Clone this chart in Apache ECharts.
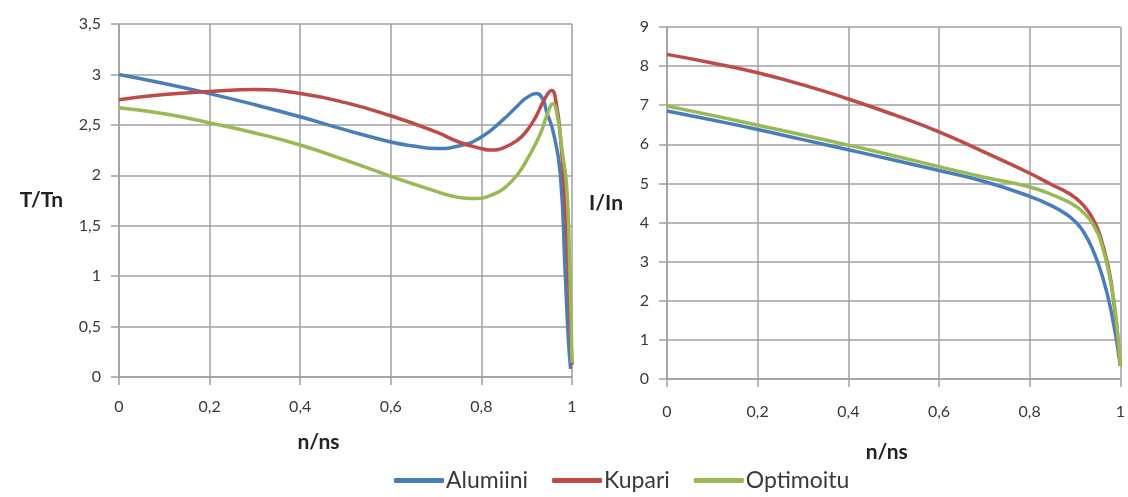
<!DOCTYPE html>
<html>
<head>
<meta charset="utf-8">
<title>T/Tn ja I/In</title>
<script src="https://cdn.jsdelivr.net/npm/echarts@6/dist/echarts.min.js"></script>
<style>
  html, body { margin: 0; padding: 0; background: #ffffff; }
  #chart { width: 1128px; height: 497px; }
</style>
</head>
<body>
<div id="chart"></div>
<script>
// Series names
const seriesNames = ['Alumiini', 'Kupari', 'Optimoitu'];
const seriesColors = ['#4a7ebb', '#be4b48', '#98b954'];

// Tick labels (decimal comma)
const xTickLabels = ['0', '0,2', '0,4', '0,6', '0,8', '1'];
const torqueTickLabels = ['0', '0,5', '1', '1,5', '2', '2,5', '3', '3,5'];
const currentTickLabels = ['0', '1', '2', '3', '4', '5', '6', '7', '8', '9'];

// Torque T/Tn against speed n/ns
const torqueAlumiini = [
  [0, 3.00], [0.1, 2.91], [0.2, 2.81], [0.3, 2.70], [0.4, 2.58], [0.5, 2.45],
  [0.6, 2.33], [0.65, 2.29], [0.7, 2.265], [0.75, 2.29], [0.8, 2.38], [0.85, 2.56],
  [0.88, 2.69], [0.9, 2.77], [0.922, 2.81], [0.935, 2.76], [0.944, 2.63],
  [0.959, 2.42], [0.974, 2.02], [0.985, 1.03], [0.992, 0.37], [0.997, 0.08]
];
const torqueKupari = [
  [0, 2.75], [0.1, 2.80], [0.2, 2.83], [0.3, 2.85], [0.4, 2.81], [0.5, 2.72],
  [0.6, 2.59], [0.7, 2.43], [0.75, 2.33], [0.8, 2.265], [0.82, 2.25], [0.85, 2.275],
  [0.88, 2.35], [0.9, 2.44], [0.92, 2.58], [0.94, 2.76], [0.955, 2.84],
  [0.965, 2.72], [0.975, 2.35], [0.985, 1.7], [0.993, 0.9], [1.0, 0.12]
];
const torqueOptimoitu = [
  [0, 2.67], [0.1, 2.61], [0.2, 2.52], [0.3, 2.42], [0.4, 2.30], [0.5, 2.15],
  [0.6, 1.99], [0.7, 1.84], [0.73, 1.80], [0.76, 1.775], [0.79, 1.77], [0.82, 1.80],
  [0.85, 1.87], [0.88, 2.01], [0.9, 2.15], [0.93, 2.41], [0.945, 2.60], [0.958, 2.71],
  [0.968, 2.58], [0.978, 2.25], [0.988, 1.9], [0.995, 1.1], [1.0, 0.14]
];

// Current I/In against speed n/ns
const currentAlumiini = [
  [0, 6.85], [0.1, 6.62], [0.2, 6.38], [0.3, 6.12], [0.4, 5.86], [0.5, 5.60],
  [0.6, 5.33], [0.7, 5.05], [0.8, 4.67], [0.85, 4.42], [0.88, 4.22], [0.9, 4.03],
  [0.92, 3.74], [0.94, 3.28], [0.96, 2.64], [0.98, 1.72], [1.0, 0.34]
];
const currentKupari = [
  [0, 8.30], [0.1, 8.08], [0.2, 7.83], [0.3, 7.52], [0.4, 7.16], [0.5, 6.76],
  [0.6, 6.32], [0.7, 5.80], [0.8, 5.26], [0.85, 4.96], [0.88, 4.79], [0.9, 4.64],
  [0.92, 4.42], [0.94, 4.08], [0.96, 3.48], [0.98, 2.45], [1.0, 0.34]
];
const currentOptimoitu = [
  [0, 6.98], [0.1, 6.74], [0.2, 6.49], [0.3, 6.24], [0.4, 5.98], [0.5, 5.71],
  [0.6, 5.43], [0.7, 5.16], [0.8, 4.91], [0.85, 4.71], [0.88, 4.56], [0.9, 4.43],
  [0.92, 4.24], [0.94, 3.95], [0.96, 3.40], [0.98, 2.40], [0.99, 1.61], [1.0, 0.34]
];

const gridColor = '#a0a0a0';
const labelColor = '#3a3a3a';
const labelFont = 'Lato, "Open Sans", sans-serif';

function nameStyle(shift) {
  return { fontFamily: labelFont, fontSize: 21, fontWeight: 'bold', color: '#222222',
           padding: [0, shift, 0, 0] };
}

function tickLabel(list, step) {
  return function (v) {
    const i = Math.round(v / step);
    return list[i] !== undefined ? list[i] : '';
  };
}

function xAxisDef(gridIndex, nameGap, margin, shift) {
  return {
    type: 'value', gridIndex: gridIndex, min: 0, max: 1, interval: 0.2,
    name: 'n/ns', nameLocation: 'middle', nameGap: nameGap,
    nameTextStyle: nameStyle(shift),
    axisLine: { show: true, lineStyle: { color: gridColor, width: 1.5 } },
    axisTick: { show: true, length: 8, lineStyle: { color: gridColor, width: 1.5 } },
    splitLine: { show: true, lineStyle: { color: gridColor, width: 1.5 } },
    axisLabel: { margin: margin, fontFamily: labelFont, fontSize: 16, color: labelColor,
                 formatter: tickLabel(xTickLabels, 0.2) }
  };
}

function yAxisDef(gridIndex, max, step, labels, name, nameGap) {
  return {
    type: 'value', gridIndex: gridIndex, min: 0, max: max, interval: step,
    name: name, nameLocation: 'middle', nameRotate: 0, nameGap: nameGap,
    nameTextStyle: nameStyle(0),
    axisLine: { show: true, lineStyle: { color: gridColor, width: 1.5 } },
    axisTick: { show: true, length: 8, lineStyle: { color: gridColor, width: 1.5 } },
    splitLine: { show: true, lineStyle: { color: gridColor, width: 1.5 } },
    axisLabel: { margin: 18, fontFamily: labelFont, fontSize: 16, color: labelColor,
                 formatter: tickLabel(labels, step) }
  };
}

function lineSeries(name, idx, axisIndex, data) {
  return {
    name: name, type: 'line', xAxisIndex: axisIndex, yAxisIndex: axisIndex,
    data: data, smooth: 0.5, showSymbol: false, symbol: 'none',
    lineStyle: { color: seriesColors[idx], width: 3.5 },
    itemStyle: { color: seriesColors[idx] },
    z: 3 + idx
  };
}

const chart = echarts.init(document.getElementById('chart'), null, { renderer: 'canvas' });
chart.setOption({
  animation: false,
  backgroundColor: '#ffffff',
  grid: [
    { left: 119, top: 24, width: 453, height: 353 },
    { left: 667, top: 27, width: 454, height: 352 }
  ],
  xAxis: [xAxisDef(0, 55, 22, 54), xAxisDef(1, 63, 25, 14)],
  yAxis: [
    yAxisDef(0, 3.5, 0.5, torqueTickLabels, 'T/Tn', 56),
    yAxisDef(1, 9, 1, currentTickLabels, 'I/In', 44)
  ],
  legend: {
    data: seriesNames,
    bottom: 0, left: 389,
    icon: 'roundRect', itemWidth: 50, itemHeight: 5, itemGap: 24,
    textStyle: { fontFamily: labelFont, fontSize: 23, color: labelColor, padding: [0, 0, 0, -3] }
  },
  series: [
    lineSeries(seriesNames[0], 0, 0, torqueAlumiini),
    lineSeries(seriesNames[1], 1, 0, torqueKupari),
    lineSeries(seriesNames[2], 2, 0, torqueOptimoitu),
    lineSeries(seriesNames[0], 0, 1, currentAlumiini),
    lineSeries(seriesNames[1], 1, 1, currentKupari),
    lineSeries(seriesNames[2], 2, 1, currentOptimoitu)
  ]
});
</script>
</body>
</html>
